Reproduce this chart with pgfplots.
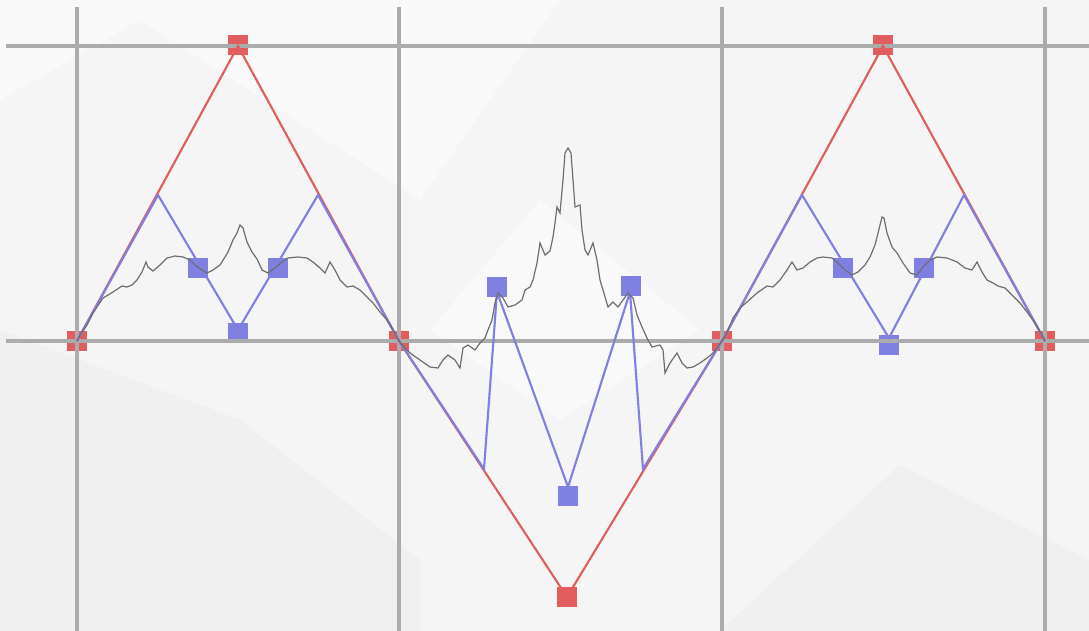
\documentclass[border=0pt]{standalone}
\usepackage{pgfplots}
\pgfplotsset{compat=1.18}
\definecolor{bg}{RGB}{245,245,245}
\definecolor{bgd}{RGB}{240,240,240}
\definecolor{bgl}{RGB}{249,249,249}
\definecolor{rd}{RGB}{226,94,94}
\definecolor{bl}{RGB}{128,128,226}
\definecolor{gr}{RGB}{110,110,110}
\definecolor{gd}{RGB}{172,172,172}
\begin{document}
\begin{tikzpicture}
\begin{axis}[
  scale only axis, width=812.25pt, height=468pt,
  xmin=6, xmax=1089, ymin=7, ymax=631, y dir=reverse,
  xtick=\empty, ytick=\empty,
  axis line style={draw=none},
  clip=false, clip marker paths=true,
]
\coordinate (BL) at (axis cs:0,631);
\coordinate (TR) at (axis cs:1089,0);
\fill[bg] (axis cs:0,0) rectangle (axis cs:1089,631);
\fill[bgl] (axis cs:0,0) -- (axis cs:0,100) -- (axis cs:140,20) -- (axis cs:420,200) -- (axis cs:560,0) -- cycle;
\fill[bgd] (axis cs:0,330) -- (axis cs:240,420) -- (axis cs:420,560) -- (axis cs:420,631) -- (axis cs:0,631) -- cycle;
\fill[bgd] (axis cs:720,631) -- (axis cs:900,465) -- (axis cs:1089,560) -- (axis cs:1089,631) -- cycle;
\fill[bgl] (axis cs:430,330) -- (axis cs:540,200) -- (axis cs:700,330) -- (axis cs:560,420) -- cycle;
% markers (drawn under the grid)
\addplot[only marks, mark=square*, mark size=7.3pt, mark options={fill=rd, draw=rd, line width=0pt}] coordinates {
(77,341)(238,45)(399,341)(567,597)(722,341)(883,45)(1045,341)};
\addplot[only marks, mark=square*, mark size=7.3pt, mark options={fill=bl, draw=bl, line width=0pt}] coordinates {
(198,268)(238,333)(278,268)(497,287)(568,496)(631,286)(843,268)(889,345)(924,268)};
% grid
\foreach \gx in {77,399,722,1045} {
  \edef\tmp{\noexpand\draw[gd, line width=2.4pt] (axis cs:\gx,7) -- (axis cs:\gx,631);}\tmp
}
\foreach \gy in {46,341} {
  \edef\tmp{\noexpand\draw[gd, line width=2.4pt] (axis cs:6,\gy) -- (axis cs:1089,\gy);}\tmp
}
% red construction
\addplot[rd, line width=1.6pt, no marks] coordinates {
(77,341)(238,46)(399,341)(567,597)(722,341)(883,46)(1045,341)};
% blue construction
\addplot[bl, line width=1.6pt, no marks] coordinates {
(77,341)(158,195)(238,330)(318,195)(399,341)(484,469)(497,292)(568,487)(630,292)(643,469)(722,341)(802,195)(889,338)(964,195)(1045,341)};
% gray fractal curve
\addplot[gr, line width=0.9pt, no marks] coordinates {
(77,341)(80,335)(87,325)(93,313)(103,298)(113,292)(122,286)(127,287)(132,285)(137,280)(142,272)(146,262)(148,267)(153,271)(160,265)(167,258)(175,256)(183,257)(190,260)(195,265)(202,270)(207,273)(213,270)(220,265)(225,257)(228,252)(233,240)(237,233)(240,225)(243,228)(247,242)(252,252)(257,259)(262,270)(268,273)(275,268)(282,262)(288,258)(298,257)(307,258)(313,262)(320,268)(325,273)(330,262)(335,270)(340,280)(347,287)(353,286)(360,290)(367,297)(373,303)(380,312)(387,320)(393,330)(399,341)
(405,348)(410,353)(420,360)(430,367)(438,368)(443,360)(448,355)(455,360)(460,368)(463,348)(468,345)(475,350)(480,343)(485,338)(488,330)(492,320)(495,303)(498,293)(503,298)(508,307)(515,305)(522,300)(525,290)(530,287)(533,280)(537,263)(540,243)(545,255)(550,251)(553,237)(555,223)(557,207)(560,213)(563,180)(565,153)(568,148)(571,153)(573,180)(575,207)(580,205)(582,230)(585,250)(588,255)(593,243)(597,260)(600,280)(603,290)(608,307)(613,302)(618,307)(623,300)(628,293)(633,298)(637,315)(642,327)(647,338)(652,347)(660,345)(663,350)(665,373)(670,363)(677,353)(682,363)(687,368)(693,367)(700,363)(707,358)(713,353)(722,341)
(727,333)(733,318)(740,308)(747,302)(757,293)(767,286)(773,287)(780,280)(787,270)(792,262)(797,270)(803,268)(810,262)(817,258)(823,257)(832,258)(838,263)(845,270)(852,275)(858,272)(865,265)(870,257)(875,245)(878,233)(882,217)(884,218)(887,233)(892,247)(897,253)(903,263)(910,273)(917,275)(923,267)(930,260)(937,257)(947,258)(957,262)(965,268)(972,270)(977,262)(982,272)(987,280)(993,283)(998,286)(1005,288)(1012,295)(1020,303)(1027,312)(1035,323)(1043,337)(1045,341)
};
\end{axis}
\pgfresetboundingbox
\path[use as bounding box] (BL) rectangle (TR);
\end{tikzpicture}
\end{document}
